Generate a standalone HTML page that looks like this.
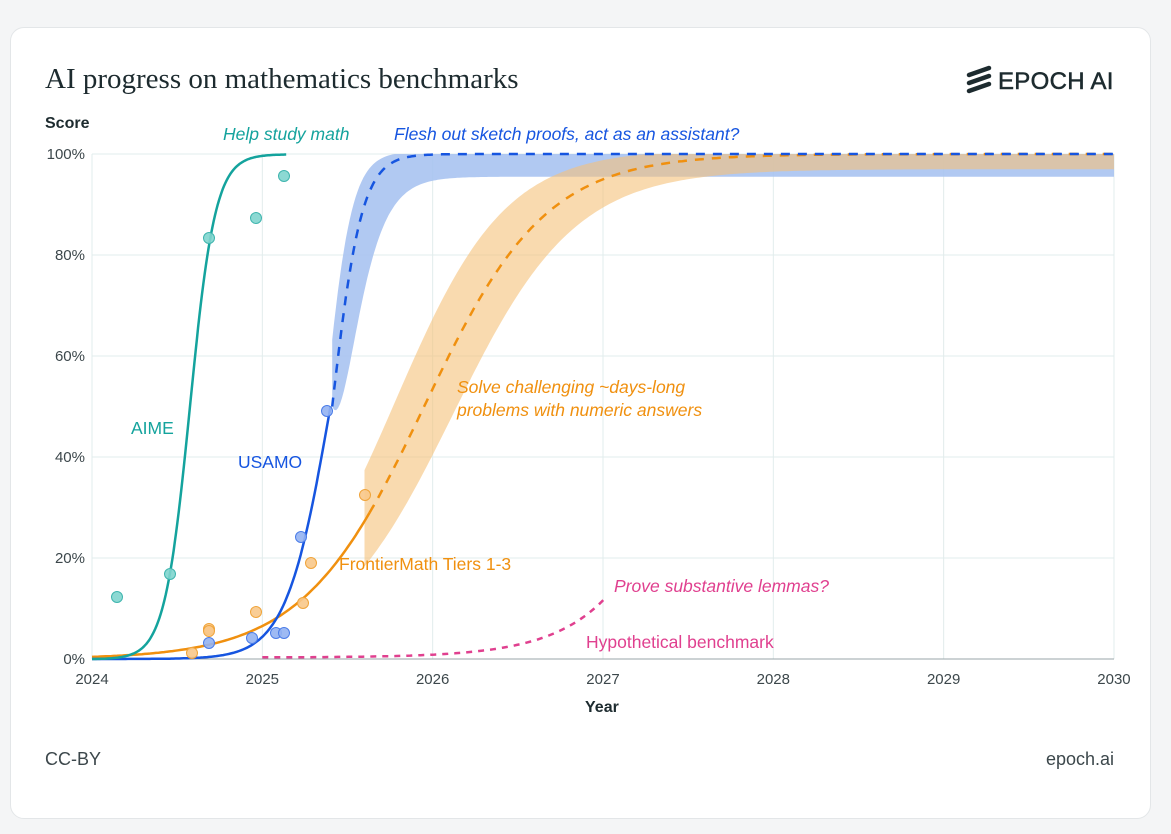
<!DOCTYPE html>
<html><head><meta charset="utf-8"><style>
html,body{margin:0;padding:0;background:#f4f5f6;}
body{width:1171px;height:834px;position:relative;overflow:hidden;font-family:"Liberation Sans",sans-serif;}
.card{position:absolute;left:10px;top:27px;width:1139px;height:790px;background:#fff;border:1px solid #e3e6e8;border-radius:14px;}
svg{position:absolute;left:0;top:0;}
</style></head><body>
<div class="card"></div>
<svg id="s" width="1171" height="834" xmlns="http://www.w3.org/2000/svg" font-family="Liberation Sans, sans-serif">
<text x="45" y="88" font-family="Liberation Serif, serif" font-size="29" fill="#1d2b2f">AI progress on mathematics benchmarks</text>
<g stroke="#1d2b2f" stroke-width="4.5" stroke-linecap="round"><line x1="969" y1="75" x2="989" y2="68"/><line x1="969" y1="83" x2="989" y2="76"/><line x1="969" y1="91" x2="989" y2="84"/></g>
<text x="998" y="89" font-size="24" fill="#1d2b2f" letter-spacing="0.3" stroke="#1d2b2f" stroke-width="0.5">EPOCH AI</text>
<text x="45" y="128" font-size="16" font-weight="bold" fill="#1d2b2f">Score</text>
<g id="grid" stroke="#e2ecec" stroke-width="1"></g>
<g id="ticks" font-size="15" fill="#3c474b"></g>
<g id="plot"></g>
<text x="585" y="712" font-size="16" font-weight="bold" fill="#1d2b2f">Year</text>
<text x="45" y="765" font-size="18" fill="#3c474b">CC-BY</text>
<text x="1114" y="765" font-size="18" fill="#3c474b" text-anchor="end">epoch.ai</text>
<g font-size="17.5">
<text x="223" y="140" fill="#14a39d" font-style="italic">Help study math</text>
<text x="394" y="140" fill="#1655e0" font-style="italic">Flesh out sketch proofs, act as an assistant?</text>
<text x="131" y="434" fill="#14a39d">AIME</text>
<text x="238" y="468" fill="#1655e0">USAMO</text>
<text x="457" y="393" fill="#f0900f" font-style="italic">Solve challenging ~days-long</text>
<text x="457" y="416" fill="#f0900f" font-style="italic">problems with numeric answers</text>
<text x="339" y="570" fill="#f0900f">FrontierMath Tiers 1-3</text>
<text x="614" y="592" fill="#e0408f" font-style="italic">Prove substantive lemmas?</text>
<text x="586" y="648" fill="#e0408f">Hypothetical benchmark</text>
</g>
</svg>
<script>
const X=t=>92+(t-2024)*170.33, Y=v=>659-5.05*v;
const L=(t,m,k)=>100/(1+Math.exp(-k*(t-m)));
const NS="http://www.w3.org/2000/svg";
function el(p,tag,a){const e=document.createElementNS(NS,tag);for(const k in a)e.setAttribute(k,a[k]);document.getElementById(p).appendChild(e);return e;}
for(let i=0;i<=5;i++){const y=Y(i*20);el("grid","line",{x1:92,x2:1114,y1:y,y2:y});
 el("ticks","text",{x:85,y:y+5,"text-anchor":"end"}).textContent=(i*20)+"%";}
for(let i=0;i<=6;i++){const x=X(2024+i);el("grid","line",{x1:x,x2:x,y1:154,y2:659});
 el("ticks","text",{x:x,y:684,"text-anchor":"middle"}).textContent=2024+i;}
el("grid","line",{x1:92,x2:1114,y1:659,y2:659,stroke:"#9aa5a8"});
function path(f,a,b,n){let s="";for(let i=0;i<=n;i++){const t=a+(b-a)*i/n;s+=(i?"L":"M")+X(t).toFixed(1)+","+Y(f(t)).toFixed(1);}return s;}
function band(fu,fl,a,b,n){let s=path(fu,a,b,n);for(let i=n;i>=0;i--){const t=a+(b-a)*i/n;s+="L"+X(t).toFixed(1)+","+Y(fl(t)).toFixed(1);}return s+"Z";}
const us=t=>L(t,2025.41,11.5);
const bl=t=>{const a=0.955*L(t,2025.47,9);return a+(us(t)-a)*Math.exp(-(t-2025.41)*25);};
// bands
el("plot","path",{d:band(t=>Math.min(100,L(t,2025.37,13)+0.5),bl,2025.41,2030,400),fill:"#a9c3f1",opacity:"0.9"});
el("plot","path",{d:band(t=>Math.min(100,L(t,2025.78,3.1)+1),t=>L(t,2026.12,2.8)*0.97,2025.6,2030,300),fill:"#f5c27a",opacity:"0.6"});
// hypothetical
el("plot","path",{d:path(t=>0.3+12*Math.exp((t-2027.02)*3),2025,2027.02,100),fill:"none",stroke:"#e0408f","stroke-width":2.5,"stroke-dasharray":"6,6"});
// frontiermath
const fm=t=>L(t,2025.95,2.8);
el("plot","path",{d:path(fm,2024,2025.63,100),fill:"none",stroke:"#f0900f","stroke-width":2.5});
el("plot","path",{d:path(fm,2025.63,2030,300),fill:"none",stroke:"#f0900f","stroke-width":2.5,"stroke-dasharray":"9,8"});
// usamo
el("plot","path",{d:path(t=>L(t,2025.4,7.7),2024,2025.4,120),fill:"none",stroke:"#1655e0","stroke-width":2.5});
el("plot","path",{d:path(us,2025.41,2030,400),fill:"none",stroke:"#1655e0","stroke-width":2.5,"stroke-dasharray":"9,8"});
// aime
el("plot","path",{d:path(t=>Math.max(0,L(t,2024.575,13.5)-0.05),2024,2025.14,150),fill:"none",stroke:"#14a39d","stroke-width":2.5});
// dots
const dots=[["#7fd5ce","#3fb5ae",[[117,597],[170,574],[209,238],[256,218],[284,176]]],
["#94b2f2","#4a7ce8",[[209,643],[252,638],[276,633],[284,633],[301,537],[327,411]]],
["#f8c88a","#f0a43a",[[192,653],[209,629],[209,631],[256,612],[303,603],[311,563],[365,495]]]];
for(const [f,s,pts] of dots)for(const [x,y] of pts)el("plot","circle",{cx:x,cy:y,r:5.5,fill:f,stroke:s,"stroke-width":1,"fill-opacity":0.9});
</script>
</body></html>
